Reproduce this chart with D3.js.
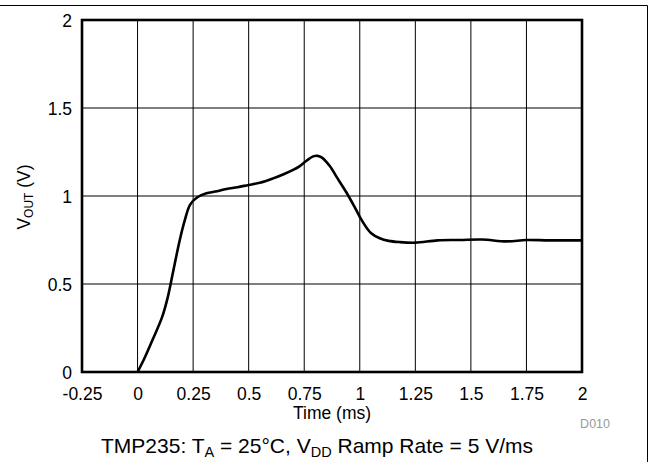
<!DOCTYPE html>
<html><head><meta charset="utf-8">
<script src="https://cdn.jsdelivr.net/npm/d3@7"></script>
<style>
body{margin:0;background:#fff;}
text{font-family:"Liberation Sans",Arial,Helvetica,sans-serif;fill:#000;}
</style></head>
<body>
<svg id="chart" width="649" height="462"></svg>
<script>
const timeMs = [0, 0.03, 0.07, 0.11, 0.135, 0.16, 0.19, 0.213, 0.236, 0.266, 0.31, 0.35, 0.40, 0.45, 0.50, 0.55, 0.61, 0.66, 0.70, 0.73, 0.76, 0.79, 0.81, 0.83, 0.865, 0.90, 0.94, 0.98, 1.01, 1.05, 1.09, 1.13, 1.18, 1.25, 1.35, 1.45, 1.55, 1.66, 1.75, 1.85, 2.0];
const vout = [0, 0.075, 0.19, 0.31, 0.42, 0.57, 0.75, 0.864, 0.95, 0.99, 1.015, 1.025, 1.04, 1.05, 1.063, 1.075, 1.10, 1.125, 1.148, 1.17, 1.2, 1.225, 1.228, 1.218, 1.17, 1.1, 1.02, 0.93, 0.86, 0.79, 0.76, 0.745, 0.738, 0.735, 0.748, 0.75, 0.753, 0.742, 0.75, 0.748, 0.748];
const xTicks = [-0.25, 0, 0.25, 0.5, 0.75, 1, 1.25, 1.5, 1.75, 2];
const xTickLabels = ["-0.25", "0", "0.25", "0.5", "0.75", "1", "1.25", "1.5", "1.75", "2"];
const yTicks = [0, 0.5, 1, 1.5, 2];
const yTickLabels = ["0", "0.5", "1", "1.5", "2"];

const svg = d3.select("#chart");
const L = 82, R = 582, T = 20, B = 372;
const x = d3.scaleLinear().domain([-0.25, 2]).range([L, R]);
const y = d3.scaleLinear().domain([0, 2]).range([B, T]);

// outer frame lines (top and right)
svg.append("line").attr("x1", 0).attr("x2", 647.5).attr("y1", 5.5).attr("y2", 5.5).attr("stroke", "#000").attr("stroke-width", 1);
svg.append("line").attr("x1", 647.5).attr("x2", 647.5).attr("y1", 5.5).attr("y2", 462).attr("stroke", "#000").attr("stroke-width", 1);

// grid
const g = svg.append("g");
g.selectAll(".vg").data(xTicks.slice(1, -1)).enter().append("line")
  .attr("x1", d => x(d)).attr("x2", d => x(d)).attr("y1", T).attr("y2", B)
  .attr("stroke", "#000").attr("stroke-width", 1);
g.selectAll(".hg").data(yTicks.slice(1, -1)).enter().append("line")
  .attr("y1", d => y(d)).attr("y2", d => y(d)).attr("x1", L).attr("x2", R)
  .attr("stroke", "#000").attr("stroke-width", 1);

// axes (labels only)
const xAxis = d3.axisBottom(x).tickValues(xTicks).tickSize(0).tickPadding(0)
  .tickFormat((d, i) => xTickLabels[i]);
const xa = svg.append("g").attr("transform", `translate(0,${B})`).call(xAxis);
xa.select(".domain").remove();
xa.selectAll("text").attr("font-size", 17.5).attr("dy", null).attr("y", 28)
  .style("font-family", '"Liberation Sans",Arial,sans-serif').attr("fill", "#000");

const yAxis = d3.axisLeft(y).tickValues(yTicks).tickSize(0).tickPadding(0)
  .tickFormat((d, i) => yTickLabels[i]);
const ya = svg.append("g").attr("transform", `translate(${L},0)`).call(yAxis);
ya.select(".domain").remove();
ya.selectAll("text").attr("font-size", 17.5).attr("x", -10).attr("dy", "0.35em")
  .style("font-family", '"Liberation Sans",Arial,sans-serif').attr("fill", "#000");

// curve
const line = d3.line().x((d, i) => x(timeMs[i])).y((d, i) => y(vout[i])).curve(d3.curveCatmullRom.alpha(0.5));
svg.append("path").attr("d", line(vout)).attr("fill", "none").attr("stroke", "#000")
  .attr("stroke-width", 2.6).attr("stroke-linejoin", "round");

// plot frame
svg.append("rect").attr("x", L).attr("y", T).attr("width", R - L).attr("height", B - T)
  .attr("fill", "none").attr("stroke", "#000").attr("stroke-width", 2.6);

// axis titles
svg.append("text").attr("x", 332).attr("y", 419).attr("text-anchor", "middle").attr("font-size", 17.5).text("Time (ms)");

const yt = svg.append("text").attr("transform", "translate(30,197) rotate(-90)").attr("text-anchor", "middle").attr("font-size", 17.5);
yt.append("tspan").text("V");
yt.append("tspan").attr("font-size", 12).attr("dy", 3).text("OUT");
yt.append("tspan").attr("dy", -3).text(" (V)");

svg.append("text").attr("x", 610).attr("y", 428).attr("text-anchor", "end").attr("font-size", 12.5).style("fill", "#999").text("D010");

const st = svg.append("text").attr("x", 317).attr("y", 453).attr("text-anchor", "middle").attr("font-size", 21);
st.append("tspan").text("TMP235: T");
st.append("tspan").attr("font-size", 14.5).attr("dy", 4).text("A");
st.append("tspan").attr("dy", -4).text(" = 25°C, V");
st.append("tspan").attr("font-size", 14.5).attr("dy", 4).text("DD");
st.append("tspan").attr("dy", -4).text(" Ramp Rate = 5 V/ms");
</script>
</body></html>
